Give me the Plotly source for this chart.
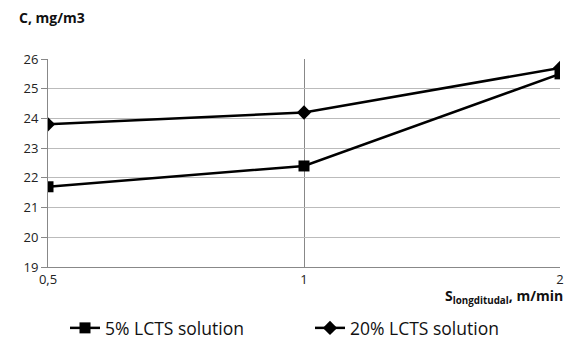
import plotly.graph_objects as go

categories = ["0,5", "1", "2"]
series_5 = [21.7, 22.4, 25.5]
series_20 = [23.8, 24.2, 25.7]
y_ticks = [19, 20, 21, 22, 23, 24, 25, 26]

FONT = "Open Sans"

fig = go.Figure()
fig.add_trace(go.Scatter(
    x=categories, y=series_5, name="5% LCTS solution", mode="lines+markers",
    line=dict(color="black", width=2.5),
    marker=dict(symbol="square", size=11, color="black"),
))
fig.add_trace(go.Scatter(
    x=categories, y=series_20, name="20% LCTS solution", mode="lines+markers",
    line=dict(color="black", width=2.5),
    marker=dict(symbol="diamond", size=11, color="black"),
))

fig.update_layout(
    width=571, height=341,
    margin=dict(l=48, r=11, t=59, b=74),
    paper_bgcolor="white", plot_bgcolor="white",
    font=dict(family=FONT, size=12, color="#222"),
    showlegend=True,
    legend=dict(orientation="h", xref="container", yref="container",
                x=65 / 571, xanchor="left", y=13 / 341, yanchor="middle",
                font=dict(size=17.5, color="#111"), itemwidth=30,
                entrywidth=200, traceorder="normal"),
    xaxis=dict(type="category", range=[0, 2], showgrid=True, gridcolor="#888",
               gridwidth=1, showline=True, linecolor="#888", ticks="",
               tickfont=dict(size=13, color="#222"), zeroline=False, automargin=False),
    yaxis=dict(range=[19, 26], tickvals=y_ticks, showgrid=True, gridcolor="#bbb",
               showline=True, linecolor="#888", ticks="outside", ticklen=6,
               tickcolor="#888", tickfont=dict(size=13, color="#222"), zeroline=False,
               automargin=False),
    annotations=[
        dict(text="<b>C, mg/m3</b>", xref="paper", yref="paper", x=-0.06, y=1.2,
             xanchor="left", yanchor="middle", showarrow=False,
             font=dict(size=14, color="#111")),
        dict(text="<b>S<sub>longditudal</sub>, m/min</b>", xref="paper", yref="paper",
             x=1.01, y=-0.144, xanchor="right", yanchor="middle", showarrow=False,
             font=dict(size=14, color="#111")),
    ],
)

fig.write_html("out.html", config={"displayModeBar": False},
               post_script="document.body.style.margin='0';")
